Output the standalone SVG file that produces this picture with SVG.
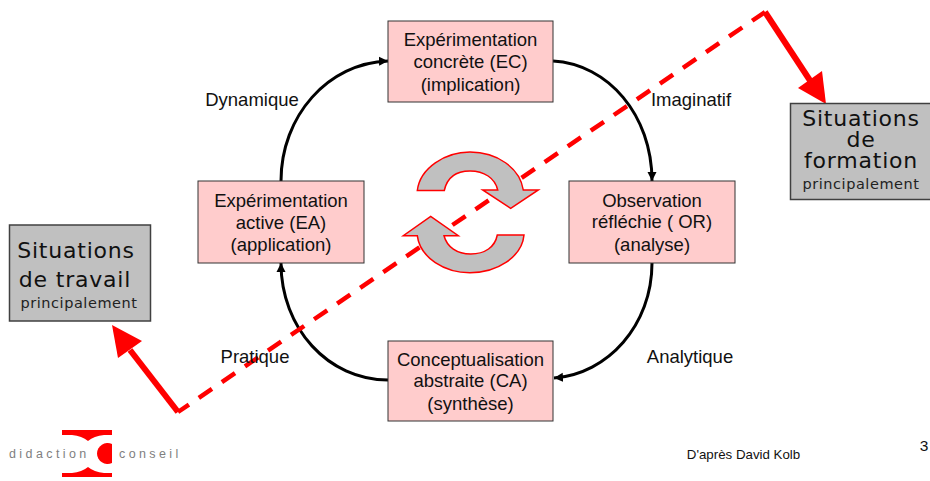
<svg xmlns="http://www.w3.org/2000/svg" width="930" height="481" viewBox="0 0 930 481">
<style>
text{font-family:"Liberation Sans",Arial,sans-serif;fill:#111;text-anchor:middle}
.pink{fill:#ffcccc;stroke:#333;stroke-width:1}
.gray{fill:#c0c0c0;stroke:#404040;stroke-width:1.5}
.t{font-size:18.5px}
.v{font-family:"DejaVu Sans",sans-serif;font-size:22px;letter-spacing:.8px;fill:#111}
.s{font-family:"DejaVu Sans",sans-serif;font-size:14.5px;letter-spacing:.55px;fill:#222}
.c{fill:none;stroke:#000;stroke-width:3}
.cyc{fill:#c0c0c0;stroke:#ff0000;stroke-width:1.5;stroke-linejoin:miter}
.logo{font-size:12.500px;fill:#808080;text-anchor:start;letter-spacing:3.4px}
</style>
<defs>
<marker id="a" markerUnits="userSpaceOnUse" markerWidth="10" markerHeight="10" refX="9" refY="5" orient="auto"><path d="M0,0.500L9,5L0,9.500Z" fill="#000"/></marker>
</defs>
<g id="connectors">
<path class="c" marker-end="url(#a)" d="M553,61C608,64 652,115 652,181"/>
<path class="c" marker-end="url(#a)" d="M652,263C652,325 608,374 554,378"/>
<path class="c" marker-end="url(#a)" d="M388,380C328,380 281,328 281,263"/>
<path class="c" marker-end="url(#a)" d="M281,181C281,116 328,63 388,61"/>
<path d="M178,412L765,12" fill="none" stroke="#ff0000" stroke-width="4.500" stroke-dasharray="15.900 12" stroke-dashoffset="2.700"/>
<path d="M765,12L811,82" stroke="#ff0000" stroke-width="6" fill="none"/>
<path d="M826,104L798,88L822,71Z" fill="#ff0000"/>
<path d="M178,412L130,350" stroke="#ff0000" stroke-width="6" fill="none"/>
<path d="M112,325L142,341L118,358Z" fill="#ff0000"/>
</g>
<g id="cycle">
<path class="cyc" d="M417.300,190.500C420,168 445,152 470,152C497,152 520,168 523.300,190H538.300L510.700,208.300L482.700,190H497.700C495,178 484,171 470,171C456,171 447,178 444.300,190.500Z"/>
<path class="cyc" d="M524,235C522,257 497,272.700 470,272.700C445,272.700 420,258 417.300,235.700H403.300L430.700,216.300L458.300,235.700H444C447,247 457,254 470.700,254C485,254 495,247 497.300,235Z"/>
</g>
<g id="node-ec"><rect class="pink" x="388" y="21" width="165" height="81"/><text class="t" x="470.500" y="46">Expérimentation</text><text class="t" x="470.500" y="68">concrète (EC)</text><text class="t" x="470.500" y="91">(implication)</text></g>
<g id="node-or"><rect class="pink" x="569" y="181" width="166" height="82"/><text class="t" x="652" y="207">Observation</text><text class="t" x="652" y="228">réfléchie ( OR)</text><text class="t" x="652" y="251">(analyse)</text></g>
<g id="node-ea"><rect class="pink" x="198" y="181" width="166" height="82"/><text class="t" x="281" y="207">Expérimentation</text><text class="t" x="281" y="229">active (EA)</text><text class="t" x="281" y="251">(application)</text></g>
<g id="node-ca"><rect class="pink" x="388" y="341" width="165" height="80"/><text class="t" x="470.500" y="366">Conceptualisation</text><text class="t" x="470.500" y="387">abstraite (CA)</text><text class="t" x="470.500" y="410">(synthèse)</text></g>
<g id="node-formation"><rect class="gray" x="790.500" y="103.500" width="141" height="96"/><text class="v" x="861" y="126">Situations</text><text class="v" x="861" y="147">de</text><text class="v" x="861" y="168">formation</text><text class="s" x="861" y="189">principalement</text></g>
<g id="node-travail"><rect class="gray" x="9.500" y="225" width="141" height="96"/><text class="v" x="76" y="258">Situations</text><text class="v" x="75" y="287">de travail</text><text class="s" x="79" y="308">principalement</text></g>
<g id="labels">
<text class="t" x="252" y="106">Dynamique</text>
<text class="t" x="691" y="106">Imaginatif</text>
<text class="t" x="255" y="363">Pratique</text>
<text class="t" x="690" y="363">Analytique</text>
<text x="743.500" y="459" font-size="13.300">D'après David Kolb</text>
<text x="924" y="451" font-size="15.500">3</text>
</g>
<g id="logo">
<path d="M62,430H112V435H104Q94,436 88,441Q82,436 72,435H62Z" fill="#ff0000"/>
<path d="M62,477H112V473H104Q94,472 88,467Q82,472 72,473H62Z" fill="#ff0000"/>
<path d="M112,444A10.500,10.500 0 1 0 112,463Z" fill="#ff0000"/>
<text class="logo" x="9" y="458">didaction</text>
<text class="logo" x="119" y="458">conseil</text>
</g>
</svg>
